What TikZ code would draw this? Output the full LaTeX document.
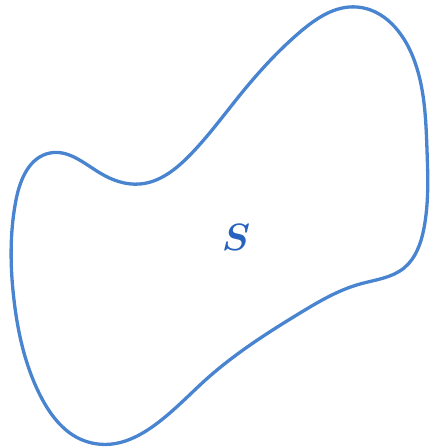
\documentclass[tikz,border=0pt]{standalone}
\usepackage{graphicx}
\usepackage{amsmath}
\usepackage{bm}
\usetikzlibrary{hobby}
\definecolor{blobblue}{RGB}{72,132,208}
\definecolor{labelblue}{RGB}{38,98,190}
\begin{document}
\begin{tikzpicture}[x=1pt,y=-1pt,
  blob/.style={draw=blobblue,line width=3.3pt},
  lbl/.style={text=labelblue}]
\useasboundingbox (0,0) rectangle (429,447);
\draw[blob,use Hobby shortcut,closed=true]
 (357,7) .. (413,57) .. (427,150) .. (424,228) .. (404,268) .. (360,284)
 .. (300,313) .. (200,385) .. (88,442) .. (40,395) .. (14,300)
 .. (16,200) .. (50,153) .. (100,173) .. (140,184) .. (190,155) .. (240,95)
 .. (300,32);
\node[lbl] (s) at (236,237) {\scalebox{2.2}{\LARGE$\bm{S}$}};
\end{tikzpicture}
\end{document}
